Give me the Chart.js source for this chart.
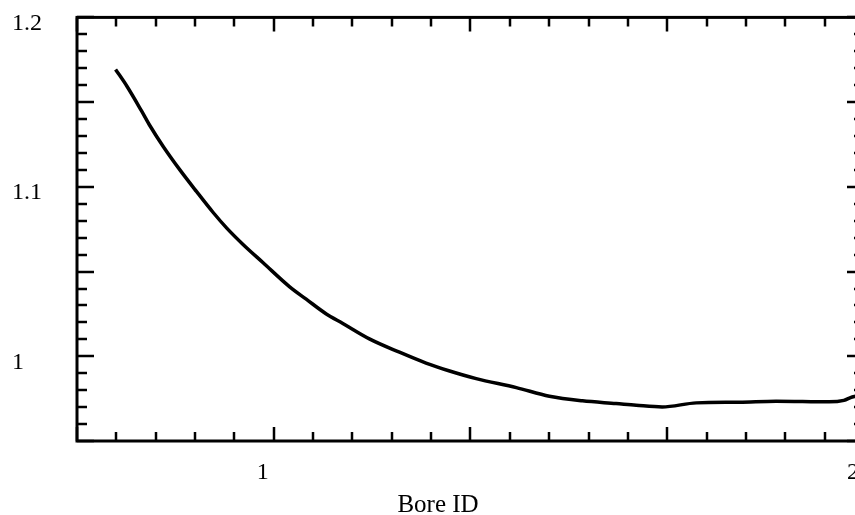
<!DOCTYPE html>
<html>
<head>
<meta charset="utf-8">
<script src="https://cdn.jsdelivr.net/npm/chart.js@4"></script>
<style>
  html, body { margin: 0; padding: 0; overflow: hidden; background: #fff; }
  #wrap { width: 920px; height: 515px; }
</style>
</head>
<body>
<div id="wrap"><canvas id="chart" width="920" height="515"></canvas></div>
<script>
// curve
const boreId = [0.732, 0.751, 0.776, 0.790, 0.813, 0.841, 0.869, 0.897, 0.920, 0.948, 0.982,
  1.027, 1.055, 1.089, 1.117, 1.162, 1.213, 1.258, 1.298, 1.343, 1.411, 1.467, 1.523,
  1.580, 1.614, 1.658, 1.716, 1.789, 1.851, 1.941, 1.966, 1.980, 2.0];
const ratio = [1.1693, 1.1595, 1.1448, 1.1362, 1.1237, 1.110, 1.0973, 1.0850, 1.0758, 1.066, 1.0552,
  1.041, 1.0337, 1.025, 1.0194, 1.0103, 1.0024, 0.996, 0.9913, 0.9868, 0.9815, 0.9764, 0.9737,
  0.9721, 0.9711, 0.9701, 0.9725, 0.9729, 0.9735, 0.9731, 0.974, 0.976, 0.977];

// axes
const xMin = 2 / 3, xMax = 2;
const yMin = 0.95, yMax = 1.2;
const xLabelValues = [1, 2];
const yLabelValues = [1, 1.1, 1.2];
const xMajorTicks = [2 / 3, 1, 4 / 3, 5 / 3, 2];
const yMajorTicks = [0.95, 1, 1.05, 1.1, 1.15, 1.2];
const minorPerMajor = 5;
const xTitle = 'Bore ID';

const serif = "'Liberation Serif', 'Times New Roman', serif";

// inward tick marks on all four sides + frame
const frameTicks = {
  id: 'frameTicks',
  afterDraw(chart) {
    const ctx = chart.ctx;
    const a = chart.chartArea;
    const x = chart.scales.x, y = chart.scales.y;
    ctx.save();
    ctx.strokeStyle = '#000';
    ctx.lineWidth = 2.5;
    ctx.beginPath();
    for (let i = 0; i < xMajorTicks.length; i++) {
      const step = i < xMajorTicks.length - 1 ? (xMajorTicks[i + 1] - xMajorTicks[i]) / minorPerMajor : 0;
      for (let k = 0; k < (step ? minorPerMajor : 1); k++) {
        const px = Math.round(x.getPixelForValue(xMajorTicks[i] + k * step));
        const len = k === 0 ? 14 : 9;
        ctx.moveTo(px, a.bottom); ctx.lineTo(px, a.bottom - len);
        ctx.moveTo(px, a.top); ctx.lineTo(px, a.top + len);
      }
    }
    for (let i = 0; i < yMajorTicks.length; i++) {
      const step = i < yMajorTicks.length - 1 ? (yMajorTicks[i + 1] - yMajorTicks[i]) / minorPerMajor : 0;
      for (let k = 0; k < (step ? minorPerMajor : 1); k++) {
        const py = Math.round(y.getPixelForValue(yMajorTicks[i] + k * step));
        const len = k === 0 ? 17 : 10;
        ctx.moveTo(a.left, py); ctx.lineTo(a.left + len, py);
        ctx.moveTo(a.right, py); ctx.lineTo(a.right - len, py);
      }
    }
    ctx.stroke();
    ctx.lineWidth = 3;
    ctx.strokeRect(a.left, a.top, a.right - a.left, a.bottom - a.top);
    ctx.restore();
  }
};

new Chart(document.getElementById('chart'), {
  type: 'line',
  data: {
    datasets: [{
      data: boreId.map((v, i) => ({ x: v, y: ratio[i] })),
      borderColor: '#000',
      borderWidth: 3.5,
      pointRadius: 0,
      tension: 0.4,
      cubicInterpolationMode: 'monotone',
      fill: false
    }]
  },
  options: {
    responsive: false,
    animation: false,
    layout: { padding: { left: 12, top: 15, right: 56, bottom: 0 } },
    plugins: {
      legend: { display: false },
      tooltip: { enabled: false },
      title: {
        display: true,
        position: 'bottom',
        text: xTitle,
        color: '#000',
        font: { family: serif, size: 25, weight: 'normal', lineHeight: '20px' },
        padding: { top: 0, bottom: 0 }
      }
    },
    scales: {
      x: {
        type: 'linear',
        min: xMin,
        max: xMax,
        grid: { display: false },
        border: { display: false },
        afterBuildTicks: s => { s.ticks = xLabelValues.map(v => ({ value: v })); },
        afterFit: s => { s.height = 54; },
        ticks: {
          color: '#000',
          font: { family: serif, size: 24 },
          padding: 9,
          labelOffset: -11,
          maxRotation: 0,
          autoSkip: false,
          callback: v => String(v)
        }
      },
      y: {
        min: yMin,
        max: yMax,
        grid: { display: false },
        border: { display: false },
        afterBuildTicks: s => { s.ticks = yLabelValues.map(v => ({ value: v })); },
        afterFit: s => { s.width = 65; },
        ticks: {
          color: '#000',
          font: { family: serif, size: 24 },
          crossAlign: 'far',
          labelOffset: 6,
          autoSkip: false,
          callback: v => String(Math.round(v * 10) / 10)
        }
      }
    }
  },
  plugins: [frameTicks]
});
</script>
</body>
</html>
